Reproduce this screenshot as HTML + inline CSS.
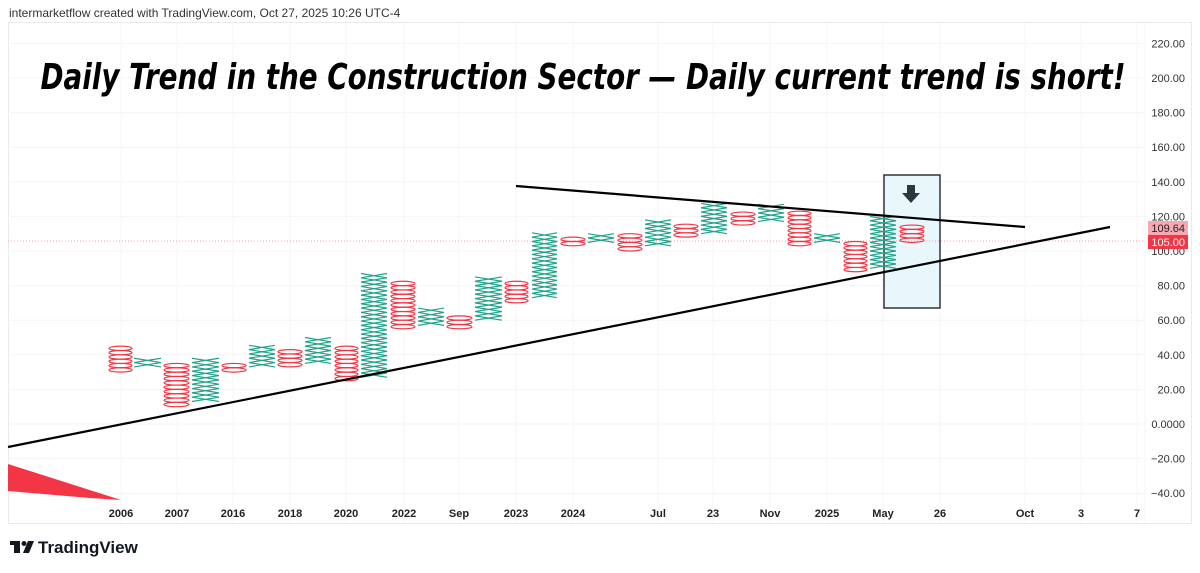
<!DOCTYPE html>
<html><head><meta charset="utf-8"><style>
html,body{margin:0;padding:0;background:#fff;width:1200px;height:573px;overflow:hidden}
svg{display:block}
</style></head><body>
<svg id="s" width="1200" height="573" xmlns="http://www.w3.org/2000/svg" font-family="Liberation Sans, sans-serif">
<rect x="0" y="0" width="1200" height="573" fill="#fff"/>
<text x="9" y="17" font-size="12" fill="#333">intermarketflow created with TradingView.com, Oct 27, 2025 10:26 UTC-4</text>
<rect x="8.5" y="22.5" width="1183" height="501" fill="none" stroke="#eaeaea"/>
<g id="grid" stroke="#f4f4f4" stroke-width="1"></g>
<polygon points="8,464 121,500 90,498 8,491" fill="#f23645"/>
<rect x="884" y="175" width="56" height="133" fill="#e8f7fb" stroke="#333" stroke-width="1.5"/>
<line x1="8" y1="241" x2="1145" y2="241" stroke="#f7a1a8" stroke-width="1" stroke-dasharray="1,2"/>
<g id="cols"></g>
<line x1="8" y1="447" x2="1110" y2="227" stroke="#000" stroke-width="2.2"/>
<line x1="516" y1="186" x2="1025" y2="227" stroke="#000" stroke-width="2.2"/>
<polygon points="907,185 915,185 915,193 920,193 911,203 902,193 907,193" fill="#2a3a3a"/>
<text x="583" y="89" font-size="36" font-weight="bold" font-style="italic" text-anchor="middle" fill="#000" font-family="DejaVu Sans, sans-serif" textLength="1085" lengthAdjust="spacingAndGlyphs">Daily Trend in the Construction Sector — Daily current trend is short!</text>
<g id="yl" font-size="11" fill="#333" text-anchor="end"></g>
<rect x="1148" y="221" width="40" height="14" fill="#f7a8b0"/>
<text x="1185" y="232" font-size="11" fill="#222" text-anchor="end">109.64</text>
<rect x="1148" y="235" width="40" height="14" fill="#f23645"/>
<text x="1185" y="246" font-size="11" fill="#fff" text-anchor="end">105.00</text>
<g id="xl" font-size="11" font-weight="bold" fill="#222" text-anchor="middle"></g>
<g transform="translate(10,541)"><rect x="0" y="0" width="10" height="4" fill="#131722"/><rect x="4" y="0" width="6" height="12" fill="#131722"/><circle cx="14" cy="2.5" r="2.5" fill="#131722"/><polygon points="18,0 24,0 19,12 13,12" fill="#131722"/></g>
<text x="38" y="553" font-size="17" font-weight="bold" fill="#131722">TradingView</text>
</svg>
<script>
var NS="http://www.w3.org/2000/svg";
function el(p,t,a,txt){var e=document.createElementNS(NS,t);for(var k in a)e.setAttribute(k,a[k]);if(txt)e.textContent=txt;document.getElementById(p).appendChild(e);return e;}
function Y(v){return 424-1.73*v;}
for(var v=-40;v<=220;v+=20){var y=Y(v);el('grid','line',{x1:8,y1:y,x2:1145,y2:y});el('yl','text',{x:1185,y:y+4},(v<0?'−'+Math.abs(v).toFixed(2):(v==0?'0.0000':v.toFixed(2))));}
var xs=[[121,'2006'],[177,'2007'],[233,'2016'],[290,'2018'],[346,'2020'],[404,'2022'],[459,'Sep'],[516,'2023'],[573,'2024'],[658,'Jul'],[713,'23'],[770,'Nov'],[827,'2025'],[883,'May'],[940,'26'],[1025,'Oct'],[1081,'3'],[1137,'7']];
xs.forEach(function(a){el('grid','line',{x1:a[0],y1:23,x2:a[0],y2:523});el('xl','text',{x:a[0],y:517},a[1]);});
el('grid','line',{x1:1145,y1:23,x2:1145,y2:523});
var cols=[['O',108,133,30,45],['X',133,162,33,38],['O',163,190,10,35],['X',191,220,13,38],['O',221,247,30,35],['X',248,276,33,45],['O',277,303,33,43],['X',304,332,35,48],['O',334,359,25,45],['X',360,388,27,85],['O',390,416,55,82],['X',417,445,57,65],['O',446,473,55,62],['X',474,503,60,85],['O',504,529,70,82],['X',531,558,73,110],['O',560,586,103,108],['X',587,615,105,110],['O',617,643,100,108],['X',644,672,103,118],['O',673,699,108,115],['X',700,728,110,127],['O',730,756,115,122],['X',757,785,117,125],['O',787,812,103,122],['X',813,841,105,110],['O',843,868,88,105],['X',869,897,90,118],['O',899,925,105,115]];
cols.forEach(function(c){var x1=c[1]+1,x2=c[2]-1,cx=(x1+x2)/2;for(var v=c[3];v<c[4]-0.01;v+=2.5){var yb=Y(v),yt=Y(v+2.5);
if(c[0]=='O'){el('cols','ellipse',{cx:cx,cy:(yb+yt)/2,rx:(x2-x1)/2,ry:(yb-yt)/2,fill:'none',stroke:'#f23645','stroke-width':1.2});}
else{el('cols','line',{x1:x1,y1:yt,x2:x2,y2:yb,stroke:'#22a28a','stroke-width':1.2});el('cols','line',{x1:x1,y1:yb,x2:x2,y2:yt,stroke:'#22a28a','stroke-width':1.2});}}});
</script>
</body></html>
